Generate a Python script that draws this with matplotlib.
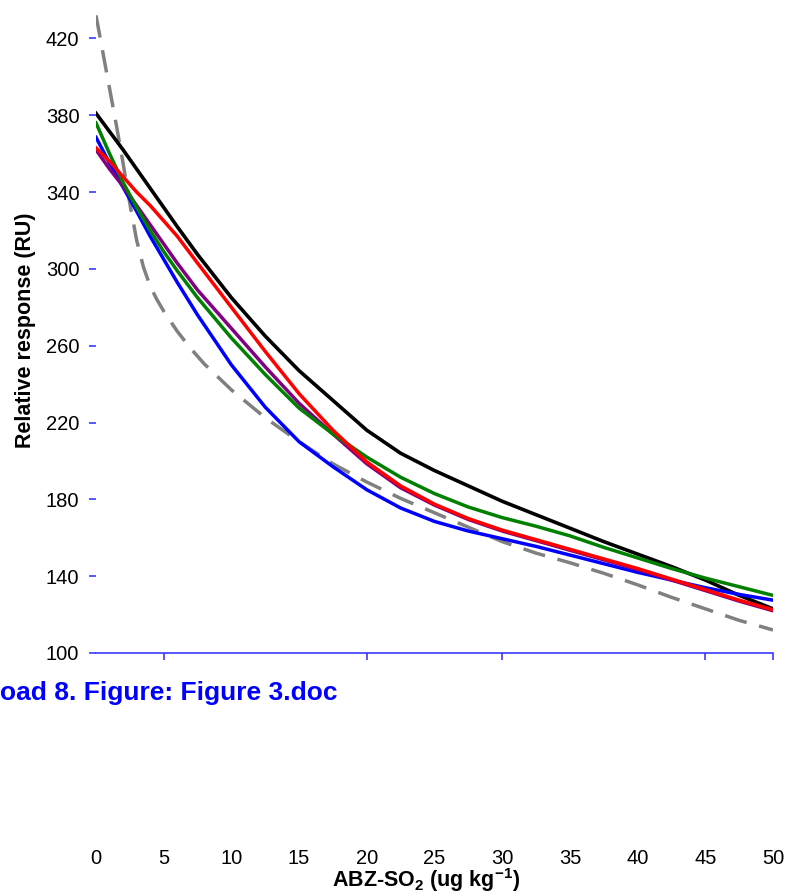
import numpy as np
import matplotlib
matplotlib.use('Agg')
import matplotlib.pyplot as plt

plt.rcParams['font.family'] = ['Liberation Sans', 'DejaVu Sans']
plt.rcParams['mathtext.fontset'] = 'custom'
plt.rcParams['mathtext.bf'] = 'Liberation Sans:bold'
plt.rcParams['mathtext.rm'] = 'Liberation Sans'

# values
x = [0, 1, 2, 3, 4, 5, 6, 7.5, 10, 12.5, 15, 17.5, 20, 22.5, 25, 27.5, 30,
     32.5, 35, 37.5, 40, 42.5, 45, 47.5, 50]
black = [381, 371.5, 362, 352, 342, 332, 322, 307.5, 285, 265, 247, 231.5, 216,
         204, 195, 187, 179, 172, 165, 158, 151.5, 145, 138, 130, 123]
red = [363, 356, 348, 340, 333, 325, 317, 303, 280, 257, 235, 216, 199.5,
       187, 177.5, 170, 164, 159, 154, 149, 144, 138.5, 133, 127.5, 122.5]
green = [376, 360, 345, 332, 320, 309, 299, 285, 264, 245, 227.5, 214, 202,
         191.5, 183, 176, 170.5, 166, 161, 155, 149.5, 144, 139, 134.5, 130]
blue = [368.5, 355, 342.5, 330, 317, 305, 293, 276, 250, 228, 210, 197, 185,
        175.5, 168.5, 163.5, 159.5, 155.5, 151, 146.5, 142, 138, 134, 130.5, 127.5]
purple = [362, 352, 343, 333, 323, 313, 303, 289, 269, 249, 230, 214, 198.5,
          186, 177, 169.5, 163.5, 158.5, 153.5, 148.5, 143.5, 138, 132.5, 127, 122]

x_grey = [0, 0.5, 1, 1.5, 2, 2.5, 3, 3.5, 4, 4.5, 5, 6, 7, 8, 10, 12.5, 15,
          17.5, 20, 22.5, 25, 27.5, 30, 32.5, 35, 37.5, 40, 42.5, 45, 47.5, 50]
grey = [432, 413, 394, 375, 355, 334, 315, 301, 291, 284, 278, 267.5, 258.5,
        250.5, 237, 222.5, 210, 198.5, 189, 180.5, 173, 165.5, 158, 152, 147,
        141.5, 135.5, 129, 123, 117, 112]

x_ticks = list(range(0, 55, 5))
x_marks = [5, 20, 30, 45, 50]
y_ticks = list(range(100, 460, 40))[:9]

axis_blue = '#3a3aff'

fig = plt.figure(figsize=(7.89, 8.94), dpi=100)
ax = fig.add_axes([96 / 789, 241 / 894, 677 / 789, 653 / 894])

ax.plot(x_grey, grey, color='#808080', lw=2.5, dashes=(6.5, 3.7))
ax.plot(x, black, color='black', lw=2.6)
ax.plot(x, blue, color='#0000ff', lw=2.5)
ax.plot(x, purple, color='#800080', lw=2.5)
ax.plot(x, green, color='#008000', lw=2.5)
ax.plot(x, red, color='#ff0000', lw=2.5)

ax.set_xlim(0, 50)
ax.set_ylim(100, 440)

for s in ['left', 'top', 'right']:
    ax.spines[s].set_visible(False)
ax.spines['bottom'].set_color(axis_blue)
ax.spines['bottom'].set_linewidth(1.2)

ax.xaxis.remove_overlapping_locs = False
ax.set_xticks(x_ticks)
ax.set_xticks(x_marks, minor=True)
ax.tick_params(axis='x', which='major', length=0, pad=141, labelsize=14.5)
ax.tick_params(axis='x', which='minor', length=5, width=1.2, color=axis_blue,
               direction='out')
ax.set_yticks(y_ticks)
ax.tick_params(axis='y', length=5, width=1.2, color=axis_blue, pad=7,
               labelsize=14.5)

fig.text(26 / 789, 1 - 330 / 894, 'Relative response (RU)', rotation=90,
         ha='center', va='center', fontsize=15.5, fontweight='bold')
fig.text(426 / 789, 1 - 887 / 894, r'ABZ-SO$\mathbf{_2}$ (ug kg$\mathbf{^{-1}}$)',
         ha='center', va='baseline', fontsize=15.5, fontweight='bold')
fig.text(337 / 789, 1 - 700 / 894, 'oad 8. Figure: Figure 3.doc',
         ha='right', va='baseline', fontsize=19, fontweight='bold',
         color='#0000ff')

fig.savefig('out.png', dpi=100)
